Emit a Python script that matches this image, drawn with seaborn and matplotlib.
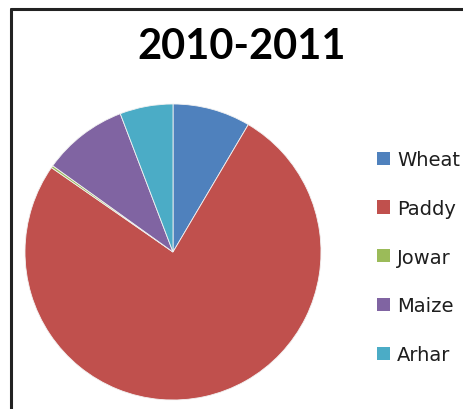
import matplotlib
matplotlib.use("Agg")
import matplotlib.pyplot as plt
import seaborn as sns
from matplotlib.patches import Patch
from matplotlib.lines import Line2D

# Data
crops = ["Wheat", "Paddy", "Jowar", "Maize", "Arhar"]
shares = [8.5, 76.2, 0.25, 9.3, 5.8]
colors = ["#4F81BD", "#C0504D", "#9BBB59", "#8064A2", "#4BACC6"]
title = "2010-2011"

sns.set_theme(style="white")
plt.rcParams["font.family"] = ["Lato", "DejaVu Sans"]

W, H = 464, 410
fig = plt.figure(figsize=(W / 100, H / 100), dpi=100)
fig.patch.set_facecolor("white")

# pie axes: center (173,253) px, radius 148 px
cx, cy, r = 173, 253, 148
ax = fig.add_axes([(cx - r) / W, (H - cy - r) / H, 2 * r / W, 2 * r / H])
wedges, _ = ax.pie(shares, colors=colors, startangle=90, counterclock=False,
                   wedgeprops=dict(linewidth=0.6, edgecolor="#f2f2f2"))
for w in wedges:
    w.set_clip_on(False)
ax.set_xlim(-1, 1)
ax.set_ylim(-1, 1)
ax.set_aspect("equal")
ax.axis("off")

# frame lines (top and left)
fig.add_artist(Line2D([11 / W, 1], [1 - 10 / H, 1 - 10 / H], color="#222222", lw=2.2,
                      transform=fig.transFigure))
fig.add_artist(Line2D([11 / W, 11 / W], [0, 1 - 10 / H], color="#222222", lw=2.2,
                      transform=fig.transFigure))

fig.text(242 / W, 1 - 47 / H, title, ha="center", va="center", fontsize=30,
         fontweight="bold", color="#000000")

handles = [Patch(facecolor=c, edgecolor="none") for c in colors]
leg = fig.legend(handles, crops, loc="upper left",
                 bbox_to_anchor=(377 / W, 1 - 151 / H), frameon=False,
                 prop=dict(family="DejaVu Sans", size=14),
                 labelspacing=1.53, handlelength=0.67, handleheight=0.67,
                 handletextpad=0.36, borderaxespad=0, borderpad=0)
for t in leg.get_texts():
    t.set_color("#1e1e1e")

fig.savefig("out.png", dpi=100)
